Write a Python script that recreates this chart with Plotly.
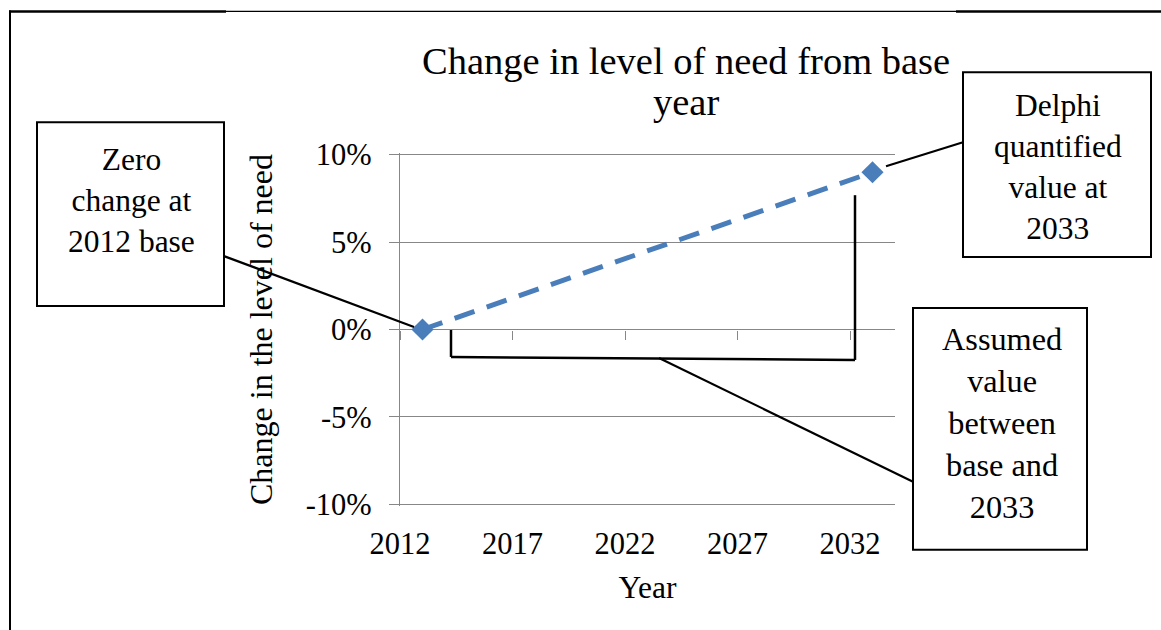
import plotly.graph_objects as go

# ---- data ----
years = [2013, 2033]
change = [0.0, 0.09]
y_tick_vals = [-0.10, -0.05, 0.0, 0.05, 0.10]
y_tick_text = ["-10%", "-5%", "0%", "5%", "10%"]
x_tick_vals = [2012, 2017, 2022, 2027, 2032]

W, H = 1161, 630
# gridline band 10%..-10% spans pixel rows 154.5..504.5; pad range slightly so edge gridlines show
YPAD = 0.001
SCALE = 350 / 0.2
L, R = 400, 266
T = 154.5 - YPAD * SCALE
B = H - 504.5 - YPAD * SCALE
PW, PH = W - L - R, H - T - B
FONT = "Liberation Serif, Times New Roman, serif"
GRID = "#878787"


def px(x):
    return (x - L) / PW


def py(y):
    return (H - B - y) / PH


fig = go.Figure()
fig.add_trace(go.Scatter(
    x=years, y=change, mode="lines+markers",
    line=dict(color="#4A7EBB", width=5, dash="21px,13px"),
    marker=dict(symbol="diamond", size=17, color="#4A7EBB"),
    showlegend=False, hoverinfo="skip"))
# invisible trace to carry the tick axis on the zero line
fig.add_trace(go.Scatter(x=years, y=change, xaxis="x2", mode="markers",
                         marker=dict(opacity=0), showlegend=False, hoverinfo="skip"))

fig.update_layout(
    width=W, height=H, autosize=False,
    margin=dict(l=L, r=R, t=T, b=B, pad=0),
    paper_bgcolor="white", plot_bgcolor="white",
    font=dict(family=FONT, color="black", size=30),
    xaxis=dict(range=[2012, 2034], tickvals=x_tick_vals, tickformat="d",
               showgrid=False, zeroline=False, showline=False, ticks="",
               tickfont=dict(size=30.5), ticklabelstandoff=16,
               title=dict(text="Year", font=dict(size=31.5), standoff=16)),
    xaxis2=dict(range=[2012, 2034], tickvals=x_tick_vals, overlaying="x",
                anchor="free", position=0.5, side="bottom",
                showticklabels=False, ticks="outside", ticklen=9, tickwidth=1.3,
                tickcolor=GRID, showgrid=False, zeroline=False, showline=False),
    yaxis=dict(range=[-0.1 - YPAD, 0.1 + YPAD], tickvals=y_tick_vals, ticktext=y_tick_text,
               showgrid=True, gridcolor=GRID, gridwidth=1.3, zeroline=False,
               showline=True, linecolor=GRID, linewidth=1.3,
               ticks="outside", ticklen=10, tickwidth=1.3, tickcolor=GRID,
               tickfont=dict(size=30.5), ticklabelstandoff=11,
               title=dict(text="Change in the level of need", font=dict(size=32),
                          standoff=23)),
)

shapes = []
# outer frame fragments
shapes.append(dict(type="line", xref="paper", yref="paper", x0=px(9), x1=px(226), y0=py(11), y1=py(11),
                   line=dict(color="black", width=2.5)))
shapes.append(dict(type="line", xref="paper", yref="paper", x0=px(226), x1=px(956), y0=py(11), y1=py(11),
                   line=dict(color="black", width=1.2)))
shapes.append(dict(type="line", xref="paper", yref="paper", x0=px(956), x1=px(1161), y0=py(11), y1=py(11),
                   line=dict(color="black", width=2.5)))
shapes.append(dict(type="line", xref="paper", yref="paper", x0=px(10), x1=px(10), y0=py(10), y1=py(631),
                   line=dict(color="black", width=2)))


# connectors
def seg(x0, y0, x1, y1, w=2.2):
    return dict(type="line", xref="paper", yref="paper", x0=px(x0), y0=py(y0), x1=px(x1), y1=py(y1),
                line=dict(color="black", width=w))


shapes.append(seg(224, 256, 414, 327))
shapes.append(seg(963, 142, 886, 166))
shapes.append(seg(913, 482, 659, 358))
# bracket
shapes.append(seg(451, 330, 451, 357, 2.5))
shapes.append(seg(451, 357, 855, 360, 2.5))
shapes.append(seg(855, 360, 855, 195, 2.5))

# boxes
for (x0, y0, x1, y1) in [(37, 122, 224, 306), (963, 72, 1151, 257), (913, 308, 1087, 550)]:
    shapes.append(dict(type="rect", xref="paper", yref="paper", x0=px(x0), x1=px(x1), y0=py(y1), y1=py(y0),
                       line=dict(color="black", width=2), fillcolor="white"))
fig.update_layout(shapes=shapes)

anns = []


def txt(text, x, y, size=31.5):
    anns.append(dict(text=text, x=px(x), y=py(y), xref="paper", yref="paper", showarrow=False,
                     xanchor="center", yanchor="middle", font=dict(family=FONT, size=size, color="black")))


txt("Change in level of need from base", 686, 61, 38.5)
txt("year", 686, 102, 38.5)
txt("Zero<br>change at<br>2012 base", 131, 200)
txt("Delphi<br>quantified<br>value at<br>2033", 1058, 167)
txt("Assumed<br>value<br>between<br>base and<br>2033", 1002, 423, 32.3)
fig.update_layout(annotations=anns)

fig.write_html("out.html")
